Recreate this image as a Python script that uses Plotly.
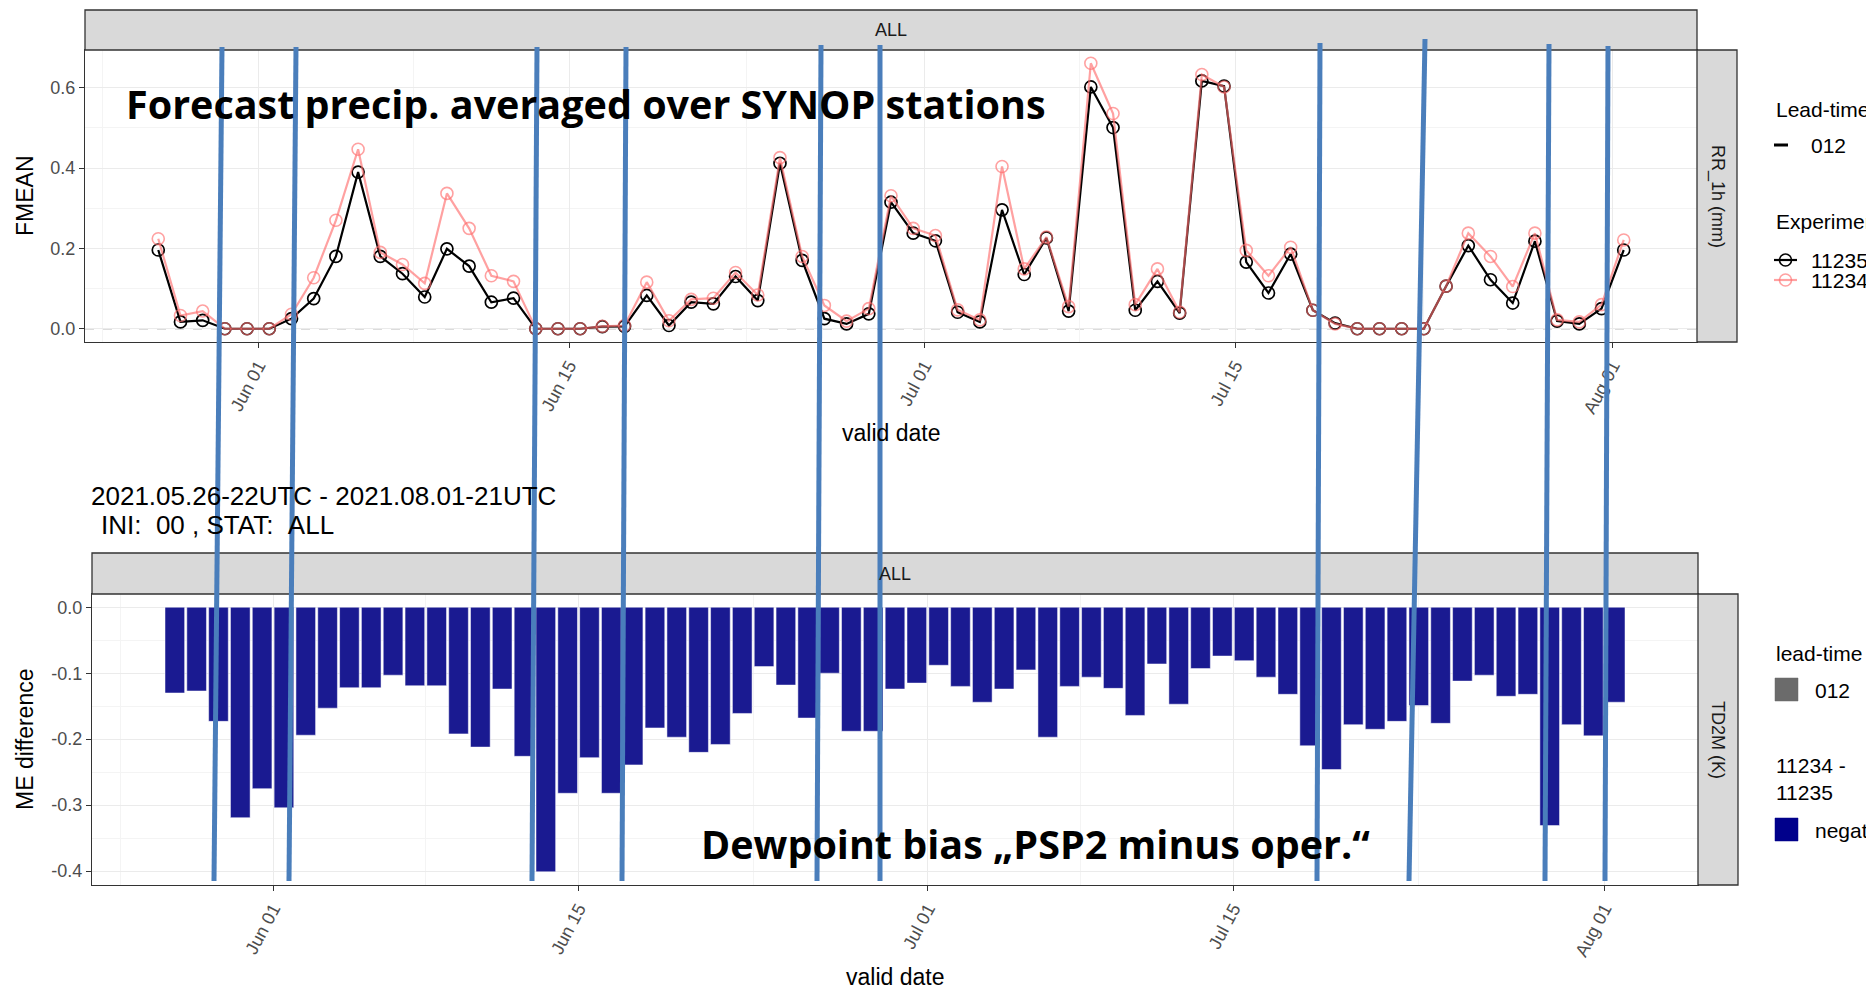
import pandas as pd
import plotly.graph_objects as go

# ---------------- data ----------------
valid_dates = pd.date_range("2021-05-27 12:00", "2021-08-01 12:00", freq="D")

fmean_11235 = [0.196, 0.017, 0.021, 0.000, 0.000, 0.000, 0.025, 0.075, 0.180, 0.390,
               0.180, 0.137, 0.079, 0.199, 0.156, 0.066, 0.076, 0.000, 0.000, 0.000,
               0.005, 0.006, 0.083, 0.008, 0.066, 0.062, 0.130, 0.070, 0.412, 0.170,
               0.025, 0.012, 0.037, 0.315, 0.238, 0.219, 0.041, 0.017, 0.296, 0.135,
               0.226, 0.044, 0.602, 0.501, 0.046, 0.118, 0.039, 0.617, 0.604, 0.166,
               0.089, 0.186, 0.046, 0.014, 0.000, 0.000, 0.000, 0.000, 0.106, 0.207,
               0.122, 0.064, 0.218, 0.019, 0.012, 0.050, 0.196]

fmean_11234 = [0.224, 0.033, 0.044, 0.000, 0.000, 0.000, 0.036, 0.127, 0.270, 0.447,
               0.190, 0.160, 0.113, 0.337, 0.250, 0.132, 0.118, 0.000, 0.000, 0.000,
               0.006, 0.008, 0.116, 0.020, 0.073, 0.076, 0.140, 0.084, 0.426, 0.180,
               0.058, 0.019, 0.050, 0.331, 0.250, 0.232, 0.047, 0.022, 0.404, 0.149,
               0.228, 0.055, 0.661, 0.536, 0.060, 0.149, 0.041, 0.633, 0.602, 0.195,
               0.132, 0.203, 0.046, 0.012, 0.000, 0.000, 0.000, 0.000, 0.106, 0.238,
               0.180, 0.105, 0.238, 0.022, 0.017, 0.060, 0.221]

me_difference = [-0.130, -0.127, -0.173, -0.319, -0.275, -0.304, -0.194, -0.153, -0.122, -0.122,
                 -0.103, -0.119, -0.119, -0.192, -0.212, -0.124, -0.226, -0.401, -0.282, -0.228,
                 -0.282, -0.239, -0.183, -0.197, -0.220, -0.208, -0.161, -0.090, -0.118, -0.168,
                 -0.100, -0.188, -0.188, -0.124, -0.115, -0.088, -0.120, -0.144, -0.124, -0.095,
                 -0.197, -0.120, -0.106, -0.123, -0.164, -0.086, -0.147, -0.093, -0.074, -0.081,
                 -0.106, -0.132, -0.210, -0.246, -0.178, -0.185, -0.173, -0.149, -0.176, -0.112,
                 -0.103, -0.135, -0.132, -0.331, -0.178, -0.195, -0.144]

x_tick_dates = ["2021-06-01", "2021-06-15", "2021-07-01", "2021-07-15", "2021-08-01"]
x_tick_labels = ["Jun 01", "Jun 15", "Jul 01", "Jul 15", "Aug 01"]
x_minor_dates = ["2021-05-25", "2021-06-08", "2021-06-23", "2021-07-08", "2021-07-23 12:00"]
top_yticks = [0.0, 0.2, 0.4, 0.6]
top_yticklabels = ["0.0", "0.2", "0.4", "0.6"]
top_yminor = [0.1, 0.3, 0.5]
bot_yticks = [-0.4, -0.3, -0.2, -0.1, 0.0]
bot_yticklabels = ["-0.4", "-0.3", "-0.2", "-0.1", "0.0"]
bot_yminor = [-0.35, -0.25, -0.15, -0.05]

# ---------------- layout helpers ----------------
W, H = 1866, 992


def fx(px):
    return px / W


def fy(py):
    return 1 - py / H


def expand(lo, hi, f=0.05):
    s = hi - lo
    return [lo - f * s, hi + f * s]


t0, t1 = valid_dates[0], valid_dates[-1]
top_xr = expand(t0, t1)
half_bar = pd.Timedelta(hours=0.45 * 24)
bot_xr = expand(t0 - half_bar, t1 + half_bar)
top_xr = [d.strftime("%Y-%m-%d %H:%M:%S") for d in top_xr]
bot_xr = [d.strftime("%Y-%m-%d %H:%M:%S") for d in bot_xr]
top_yr = expand(min(0, min(fmean_11235), min(fmean_11234)), max(max(fmean_11235), max(fmean_11234)))
bot_yr = expand(min(me_difference), 0)

GG = "Liberation Sans, Arial, sans-serif"
PINK = "rgba(255,110,110,0.65)"
BAR = "#1a1a91"

fig = go.Figure()
fig.add_trace(go.Scatter(x=valid_dates, y=fmean_11235, mode="lines+markers", name="11235",
                         line=dict(color="black", width=2.2),
                         marker=dict(symbol="circle-open", size=12, color="black", line=dict(width=1.7)),
                         xaxis="x", yaxis="y", showlegend=False))
fig.add_trace(go.Scatter(x=valid_dates, y=fmean_11234, mode="lines+markers", name="11234",
                         line=dict(color=PINK, width=2.2),
                         marker=dict(symbol="circle-open", size=12, color=PINK, line=dict(width=1.6)),
                         xaxis="x", yaxis="y", showlegend=False))
fig.add_trace(go.Bar(x=valid_dates, y=me_difference, width=0.9 * 86400000, name="negative",
                     marker=dict(color=BAR, line=dict(color="rgba(255,255,255,0.7)", width=0.7)),
                     xaxis="x2", yaxis="y2", showlegend=False))

common_x = dict(type="date", tickmode="array", tickvals=x_tick_dates, ticktext=x_tick_labels,
                tickangle=-62, tickfont=dict(family=GG, size=18, color="#4d4d4d"),
                ticks="outside", ticklen=5, tickcolor="#333333", tickwidth=1.2,
                showgrid=True, gridcolor="#ebebeb", gridwidth=1.3,
                minor=dict(tickmode="array", tickvals=x_minor_dates, showgrid=True,
                           gridcolor="#f4f4f4", gridwidth=1, ticks=""),
                showline=True, mirror=True, linecolor="#333333", linewidth=1.3,
                zeroline=False, automargin=False)
common_y = dict(tickmode="array", tickfont=dict(family=GG, size=18, color="#4d4d4d"),
                ticks="outside", ticklen=5, tickcolor="#333333", tickwidth=1.2,
                showgrid=True, gridcolor="#ebebeb", gridwidth=1.3,
                showline=True, mirror=True, linecolor="#333333", linewidth=1.3,
                zeroline=False, automargin=False)

fig.update_layout(
    width=W, height=H, margin=dict(l=0, r=0, t=0, b=0),
    paper_bgcolor="white", plot_bgcolor="white", showlegend=False,
    xaxis=dict(common_x, domain=[fx(85), fx(1697)], range=top_xr, anchor="y"),
    yaxis=dict(common_y, domain=[fy(342), fy(50)], range=top_yr, tickvals=top_yticks,
               ticktext=top_yticklabels, anchor="x",
               minor=dict(tickmode="array", tickvals=top_yminor, showgrid=True,
                          gridcolor="#f4f4f4", gridwidth=1, ticks="")),
    xaxis2=dict(common_x, domain=[fx(92), fx(1698)], range=bot_xr, anchor="y2"),
    yaxis2=dict(common_y, domain=[fy(885), fy(594)], range=bot_yr, tickvals=bot_yticks,
                ticktext=bot_yticklabels, anchor="x2",
                minor=dict(tickmode="array", tickvals=bot_yminor, showgrid=True,
                           gridcolor="#f4f4f4", gridwidth=1, ticks="")),
)

shapes = []
# zero reference line (top panel)
shapes.append(dict(type="line", xref="x", yref="y", x0=top_xr[0], x1=top_xr[1], y0=0, y1=0,
                   line=dict(color="#bababa", width=1.7, dash="dash"), layer="below"))


def rect(x0, y0, x1, y1, fill, line="#333333", lw=1.3):
    return dict(type="rect", xref="paper", yref="paper", x0=fx(x0), x1=fx(x1), y0=fy(y1), y1=fy(y0),
                fillcolor=fill, line=dict(color=line, width=lw))


# facet strips
shapes.append(rect(85, 10, 1697, 50, "#d9d9d9"))
shapes.append(rect(1697, 50, 1737, 342, "#d9d9d9"))
shapes.append(rect(92, 553, 1698, 594, "#d9d9d9"))
shapes.append(rect(1698, 594, 1738, 885, "#d9d9d9"))

# legend keys
shapes.append(dict(type="line", xref="paper", yref="paper", x0=fx(1774), x1=fx(1788), y0=fy(145), y1=fy(145),
                   line=dict(color="black", width=3)))
for yk, col in [(260, "black"), (280, PINK)]:
    shapes.append(dict(type="line", xref="paper", yref="paper", x0=fx(1774), x1=fx(1797), y0=fy(yk), y1=fy(yk),
                       line=dict(color=col, width=2.2)))
    shapes.append(dict(type="circle", xref="paper", yref="paper", x0=fx(1779.5), x1=fx(1791.5),
                       y0=fy(yk + 6), y1=fy(yk - 6), line=dict(color=col, width=1.6)))
shapes.append(rect(1775, 678, 1798, 701, "#6b6b6b", line="#6b6b6b", lw=0.5))
shapes.append(rect(1775, 818, 1798, 841, "#00008b", line="#00008b", lw=0.5))

# overlaid blue marker lines (slide annotation)
blue_lines = [(222, 47, 214, 881), (296, 47, 289, 881), (537, 47, 532, 881), (626, 47, 622, 881),
              (821, 45, 817, 881), (880, 45, 880, 881), (1320, 43, 1317, 881), (1425, 39, 1409, 881),
              (1549, 44, 1545, 881), (1608, 46, 1605, 881)]
for xa, ya, xb, yb in blue_lines:
    shapes.append(dict(type="line", xref="paper", yref="paper", x0=fx(xa), y0=fy(ya), x1=fx(xb), y1=fy(yb),
                       line=dict(color="#4a7ebb", width=5)))
fig.update_layout(shapes=shapes)

ann = []


def text(t, x, y, size, color="black", xanchor="left", yanchor="middle", angle=0, family=GG, weight=None):
    f = dict(family=family, size=size, color=color)
    if weight:
        f["weight"] = weight
    ann.append(dict(text=t, x=fx(x), y=fy(y), xref="paper", yref="paper", showarrow=False,
                    xanchor=xanchor, yanchor=yanchor, textangle=angle, font=f))


# strip labels
text("ALL", 891, 30, 18, "#1a1a1a", xanchor="center")
text("ALL", 895, 574, 18, "#1a1a1a", xanchor="center")
text("RR_1h (mm)", 1717, 196, 18, "#1a1a1a", xanchor="center", angle=90)
text("TD2M (K)", 1718, 740, 18, "#1a1a1a", xanchor="center", angle=90)
# axis titles
text("FMEAN", 25, 196, 23, xanchor="center", angle=-90)
text("ME difference", 25, 740, 23, xanchor="center", angle=-90)
text("valid date", 891, 433, 23, xanchor="center")
text("valid date", 895, 977, 23, xanchor="center")
# subtitle of lower chart
text("2021.05.26-22UTC - 2021.08.01-21UTC", 89, 496, 26)
text("INI:\u00a0\u00a000 , STAT:\u00a0\u00a0ALL", 99, 525, 26)
# legends
text("Lead-time", 1774, 110, 21)
text("012", 1809, 145, 21)
text("Experiment", 1774, 222, 21)
text("11235", 1809, 260, 21)
text("11234", 1809, 280, 21)
text("lead-time", 1774, 653, 21)
text("012", 1813, 690, 21)
text("11234 -", 1774, 765, 21)
text("11235", 1774, 792, 21)
text("negative", 1813, 830, 21)
# slide overlay texts
text("Forecast precip. averaged over SYNOP stations", 124, 104, 39.5, family="Open Sans", weight="bold")
text("Dewpoint bias \u201ePSP2 minus oper.\u201c", 699, 844, 39.5, family="Open Sans", weight="bold")
fig.update_layout(annotations=ann)

fig.write_html("out.html")
